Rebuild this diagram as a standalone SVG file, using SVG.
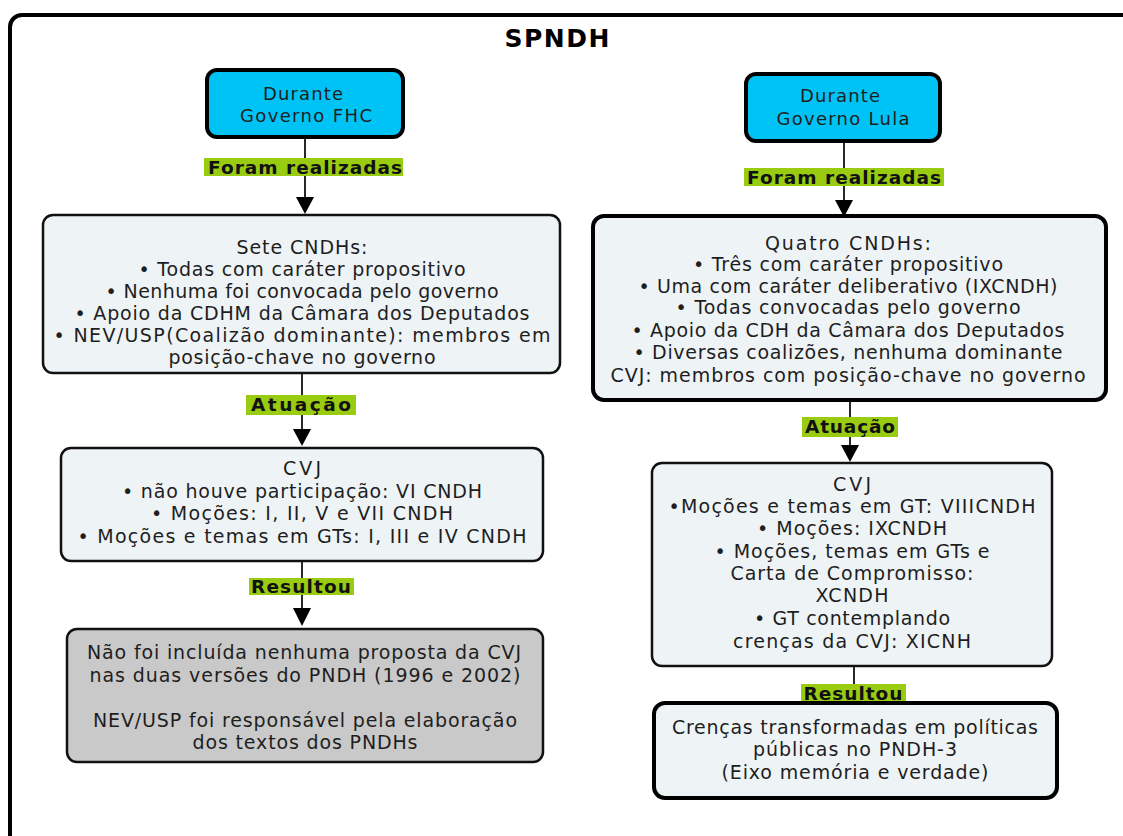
<svg xmlns="http://www.w3.org/2000/svg" width="1123" height="836" viewBox="0 0 1123 836">
<style>
text{font-family:"DejaVu Sans",Verdana,sans-serif;fill:#1e1e1e;text-anchor:middle}
.t{font-size:19px}
.h{font-size:18px}
.lbl{font-size:18.5px;font-weight:bold;fill:#111}
.title{font-size:25px;font-weight:bold;fill:#000}
.cyan{fill:#00C3F5;stroke:#000;stroke-width:4}
.light{fill:#EEF3F6;stroke:#111;stroke-width:2.5}
.lightb{fill:#EEF3F6;stroke:#000;stroke-width:4}
.grey{fill:#C9C9C9;stroke:#111;stroke-width:2.5}
.gbg{fill:#99CC11}
.c{stroke:#111;stroke-width:1.8;fill:none}
</style>
<rect width="1123" height="836" fill="#fff"/>
<rect x="10" y="15" width="1140" height="850" rx="12" fill="none" stroke="#000" stroke-width="4"/>
<text class="title" x="557" y="47" textLength="105">SPNDH</text>

<g id="connectors">
<path class="c" d="M305,137 V199"/>
<polygon points="296,197 314,197 305,214" fill="#000"/>
<path class="c" d="M302,373 V431"/>
<polygon points="293,429 311,429 302,446" fill="#000"/>
<path class="c" d="M302,561 V610"/>
<polygon points="293,608 311,608 302,626" fill="#000"/>
<path class="c" d="M844,141 V202"/>
<polygon points="835,200 853,200 844,217" fill="#000"/>
<path class="c" d="M850,400 V447"/>
<polygon points="841,445 859,445 850,462" fill="#000"/>
<path class="c" d="M854,666 V703"/>
</g>

<g id="lbl1">
<rect class="gbg" x="204" y="158" width="199" height="18"/>
<text class="lbl" x="305" y="173.5" textLength="194">Foram realizadas</text>
</g>
<g id="lbl2">
<rect class="gbg" x="246" y="395" width="110" height="20"/>
<text class="lbl" x="301" y="411" textLength="100">Atuação</text>
</g>
<g id="lbl3">
<rect class="gbg" x="249" y="578" width="105" height="17"/>
<text class="lbl" x="301" y="593" textLength="100">Resultou</text>
</g>
<g id="lbl4">
<rect class="gbg" x="744" y="168" width="200" height="18"/>
<text class="lbl" x="844" y="183.5" textLength="194">Foram realizadas</text>
</g>
<g id="lbl5">
<rect class="gbg" x="802" y="417" width="96" height="20"/>
<text class="lbl" x="850" y="433" textLength="90">Atuação</text>
</g>
<g id="lbl6">
<rect class="gbg" x="801" y="684" width="105" height="18"/>
<text class="lbl" x="853" y="699.5" textLength="99">Resultou</text>
</g>

<g id="n_fhc">
<rect class="cyan" x="207" y="70" width="196" height="67" rx="10"/>
<text class="h" x="303" y="99.5" textLength="80">Durante</text>
<text class="h" x="306" y="122" textLength="132">Governo FHC</text>
</g>
<g id="n_lula">
<rect class="cyan" x="746" y="74" width="194" height="67" rx="10"/>
<text class="h" x="840" y="102" textLength="80">Durante</text>
<text class="h" x="843" y="124.5" textLength="133">Governo Lula</text>
</g>

<g id="n_sete">
<rect class="light" x="43" y="215" width="517" height="158" rx="10"/>
<text class="t" x="302" y="253.5" textLength="131">Sete CNDHs:</text>
<text class="t" x="302" y="275.5" textLength="327">• Todas com caráter propositivo</text>
<text class="t" x="302" y="297.5" textLength="393">• Nenhuma foi convocada pelo governo</text>
<text class="t" x="302" y="319.5" textLength="455">• Apoio da CDHM da Câmara dos Deputados</text>
<text class="t" x="302" y="341.5" textLength="497">• NEV/USP(Coalizão dominante): membros em</text>
<text class="t" x="302" y="363.5" textLength="267">posição-chave no governo</text>
</g>
<g id="n_quatro">
<rect class="lightb" x="593" y="216" width="513" height="184" rx="11"/>
<text class="t" x="848" y="249.5" textLength="166">Quatro CNDHs:</text>
<text class="t" x="848" y="270.5" textLength="310">• Três com caráter propositivo</text>
<text class="t" x="848" y="292.5" textLength="419">• Uma com caráter deliberativo (IXCNDH)</text>
<text class="t" x="848" y="313.5" textLength="345">• Todas convocadas pelo governo</text>
<text class="t" x="848" y="336.5" textLength="433">• Apoio da CDH da Câmara dos Deputados</text>
<text class="t" x="848" y="358.5" textLength="429">• Diversas coalizões, nenhuma dominante</text>
<text class="t" x="848" y="381.5" textLength="475">CVJ: membros com posição-chave no governo</text>
</g>

<g id="n_cvj1">
<rect class="light" x="61" y="448" width="482" height="113" rx="10"/>
<text class="t" x="302" y="475" textLength="38">CVJ</text>
<text class="t" x="302" y="498" textLength="360">• não houve participação: VI CNDH</text>
<text class="t" x="302" y="520" textLength="302">• Moções: I, II, V e VII CNDH</text>
<text class="t" x="302" y="543" textLength="449">• Moções e temas em GTs: I, III e IV CNDH</text>
</g>
<g id="n_cvj2">
<rect class="light" x="652" y="463" width="400" height="203" rx="10"/>
<text class="t" x="852" y="491" textLength="38">CVJ</text>
<text class="t" x="852" y="513" textLength="367">•Moções e temas em GT: VIIICNDH</text>
<text class="t" x="852" y="535" textLength="190">• Moções: IXCNDH</text>
<text class="t" x="852" y="558" textLength="275">• Moções, temas em GTs e</text>
<text class="t" x="852" y="580" textLength="243">Carta de Compromisso:</text>
<text class="t" x="852" y="602" textLength="73">XCNDH</text>
<text class="t" x="852" y="625" textLength="196">• GT contemplando</text>
<text class="t" x="852" y="648" textLength="238">crenças da CVJ: XICNH</text>
</g>

<g id="n_res1">
<rect class="grey" x="67" y="629" width="476" height="133" rx="10"/>
<text class="t" x="304" y="658.5" textLength="434">Não foi incluída nenhuma proposta da CVJ</text>
<text class="t" x="305" y="681.5" textLength="431">nas duas versões do PNDH (1996 e 2002)</text>
<text class="t" x="305" y="726.5" textLength="424">NEV/USP foi responsável pela elaboração</text>
<text class="t" x="305" y="748.5" textLength="225">dos textos dos PNDHs</text>
</g>
<g id="n_res2">
<rect class="lightb" x="654" y="703" width="403" height="95" rx="11"/>
<text class="t" x="855" y="733.5" textLength="366">Crenças transformadas em políticas</text>
<text class="t" x="855" y="756" textLength="204">públicas no PNDH-3</text>
<text class="t" x="855" y="778.5" textLength="267">(Eixo memória e verdade)</text>
</g>
</svg>
